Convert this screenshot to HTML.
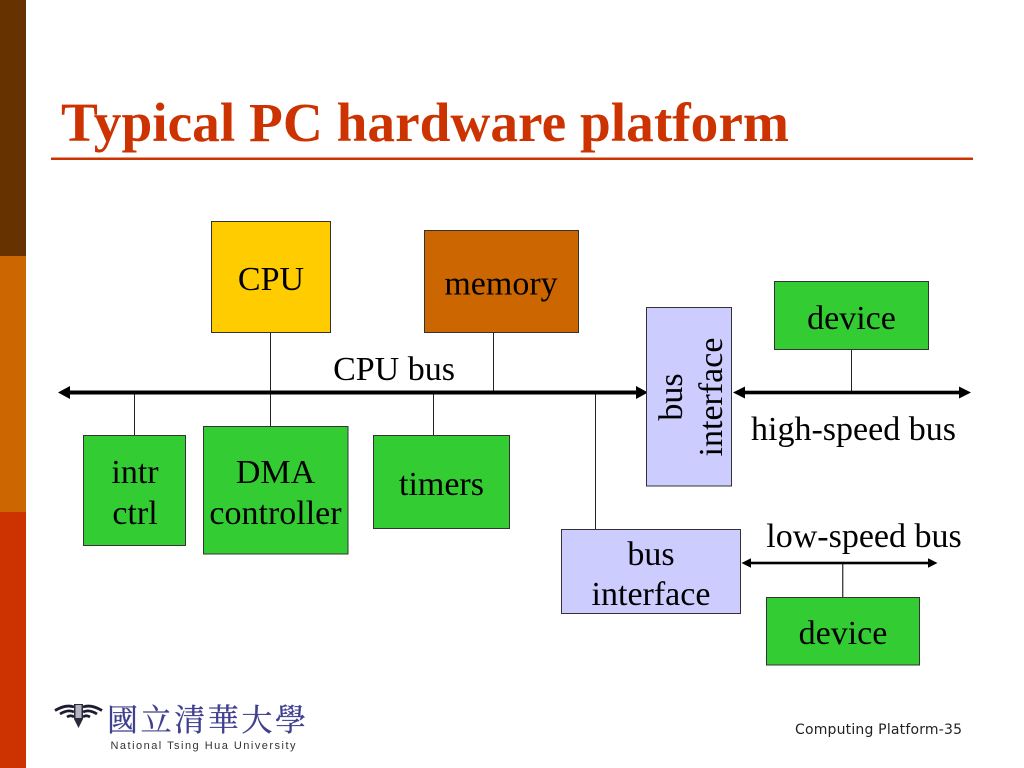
<!DOCTYPE html>
<html>
<head>
<meta charset="utf-8">
<title>Typical PC hardware platform</title>
<style>
html,body{margin:0;padding:0;background:#fff;width:1024px;height:768px;overflow:hidden}
svg{display:block}
text{font-family:"Liberation Serif","Noto Serif CJK SC",serif;fill:#000}
</style>
</head>
<body>
<svg width="1024" height="768" viewBox="0 0 1024 768" xmlns="http://www.w3.org/2000/svg">
<rect width="1024" height="768" fill="#fff"/>
<rect x="0" y="0" width="26" height="256" fill="#663300"/>
<rect x="0" y="256" width="26" height="256" fill="#CC6600"/>
<rect x="0" y="512" width="26" height="256" fill="#CC3300"/>

<text x="61" y="141" font-size="55" font-weight="bold" style="fill:#CC3300" textLength="728" lengthAdjust="spacingAndGlyphs">Typical PC hardware platform</text>
<rect x="51" y="157.500" width="922" height="2.500" fill="#CC3300"/>

<g stroke="#222" stroke-width="1">
<line x1="270.500" y1="332" x2="270.500" y2="427"/>
<line x1="134.500" y1="393" x2="134.500" y2="435"/>
<line x1="433.500" y1="393" x2="433.500" y2="435"/>
<line x1="493.500" y1="333" x2="493.500" y2="393"/>
<line x1="595.500" y1="393" x2="595.500" y2="529"/>
<line x1="851.500" y1="350" x2="851.500" y2="392"/>
</g>
<line x1="842.700" y1="563" x2="842.700" y2="597" stroke="#444" stroke-width="1.400"/>

<g fill="#000">
<rect x="68" y="390.500" width="570" height="4"/>
<polygon points="58,392.500 70,386 70,399"/>
<polygon points="648,392.500 636,386 636,399"/>
<rect x="743" y="390.700" width="218" height="3.600"/>
<polygon points="733,392.500 745,386.500 745,398.500"/>
<polygon points="971,392.500 959,386.500 959,398.500"/>
<rect x="749" y="561.700" width="180" height="2.600"/>
<polygon points="741.500,563 751,558.300 751,567.700"/>
<polygon points="937.500,563 928,558.300 928,567.700"/>
</g>

<g stroke="#333" stroke-width="1">
<rect x="211.500" y="221.500" width="119" height="111" fill="#FFCC00"/>
<rect x="424.500" y="230.500" width="154" height="102" fill="#CC6600"/>
<rect x="646.500" y="307.500" width="85" height="178.500" fill="#CCCCFF"/>
<rect x="774.500" y="281.500" width="154" height="68" fill="#33CC33"/>
<rect x="83.500" y="435.500" width="102" height="110" fill="#33CC33"/>
<rect x="203.500" y="426.500" width="144.500" height="127.500" fill="#33CC33"/>
<rect x="373.500" y="435.500" width="136" height="93" fill="#33CC33"/>
<rect x="561.500" y="529.500" width="179" height="84" fill="#CCCCFF"/>
<rect x="766.500" y="597.500" width="153" height="67.500" fill="#33CC33"/>
</g>

<g font-size="34" text-anchor="middle">
<text x="271" y="290">CPU</text>
<text x="501" y="294.500">memory</text>
<text x="851.500" y="329">device</text>
<text x="394" y="380">CPU bus</text>
<text x="853.500" y="440">high-speed bus</text>
<text x="864" y="547">low-speed bus</text>
<text x="135" y="483">intr</text>
<text x="135" y="524">ctrl</text>
<text x="275.500" y="483">DMA</text>
<text x="275.500" y="524">controller</text>
<text x="441.500" y="495">timers</text>
<text x="651" y="565">bus</text>
<text x="651" y="605">interface</text>
<text x="843" y="644">device</text>
<text transform="translate(682,397) rotate(-90)">bus</text>
<text transform="translate(722,397) rotate(-90)">interface</text>
</g>

<g>
<g fill="none" stroke="#1c1c30" stroke-width="2.800">
<path d="M55 710.500 Q66 704 74 707"/>
<path d="M60 714 Q68 709 74 712"/>
<path d="M67 717 Q71 714.500 74 717"/>
<path d="M102 710.500 Q91 704 83 707"/>
<path d="M97 714 Q89 709 83 712"/>
<path d="M90 717 Q86 714.500 83 717"/>
</g>
<path d="M74 704 H83 V719 L78.500 728 L74 719Z" fill="#2a2a3e"/>
<rect x="75.500" y="705" width="6" height="13" fill="#b4b4c0"/>
<text x="107" y="731" font-size="31" textLength="199" lengthAdjust="spacing" stroke="#3f3f8f" stroke-width="0.300" style="fill:#3f3f8f;font-family:'Noto Serif CJK SC','Liberation Serif',serif">國立清華大學</text>
<text x="110.500" y="749" font-size="11" textLength="185" lengthAdjust="spacing" style="fill:#333;font-family:'Liberation Sans',sans-serif">National Tsing Hua University</text>
</g>

<text x="795" y="734" font-size="14" textLength="167" lengthAdjust="spacing" style="fill:#222;font-family:'DejaVu Sans','Liberation Sans',sans-serif">Computing Platform-35</text>
</svg>
</body>
</html>
